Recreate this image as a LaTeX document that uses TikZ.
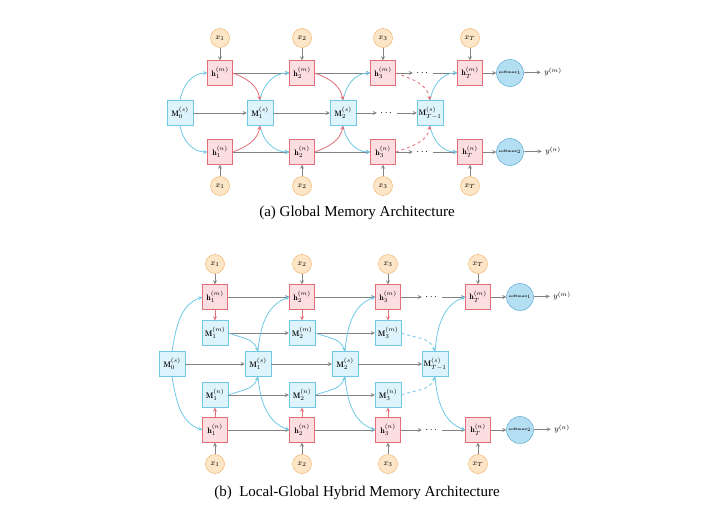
\documentclass[tikz,border=0pt]{standalone}
\usepackage{amsmath}
\usepackage{amssymb}
\usepackage{fontspec}
\usepackage{tikz}
\newfontfamily\capfont{Liberation Serif}

\definecolor{hred}{RGB}{226,110,120}
\definecolor{hfill}{RGB}{252,222,224}
\definecolor{mcyan}{RGB}{110,200,230}
\definecolor{mfill}{RGB}{222,244,252}
\definecolor{xorange}{RGB}{240,170,90}
\definecolor{xfill}{RGB}{253,230,200}
\definecolor{sblue}{RGB}{70,160,210}
\definecolor{sfill}{RGB}{180,222,242}
\definecolor{agray}{RGB}{130,130,130}

\tikzset{
  hbox/.style={draw=hred, fill=hfill, minimum width=25pt, minimum height=25pt, inner sep=1pt, font=\footnotesize},
  mbox/.style={draw=mcyan, fill=mfill, minimum width=26pt, minimum height=25pt, inner sep=1pt, font=\footnotesize},
  xin/.style={circle, draw=xorange, fill=xfill, minimum size=19pt, inner sep=0pt, font=\footnotesize},
  smax/.style={circle, draw=sblue, fill=sfill, minimum size=27pt, inner sep=0pt, font=\fontsize{3.5}{4}\selectfont\bfseries},
  garr/.style={->, >=stealth, agray, thick},
  carr/.style={->, >=stealth, mcyan, thick},
  rarr/.style={->, >=stealth, hred, thick},
  caption/.style={font=\capfont\fontsize{15}{17}\selectfont},
}

\begin{document}
\begin{tikzpicture}[x=1pt,y=-1pt]
                \useasboundingbox (0,0) rectangle (712,519);
                % (a) global memory
                \foreach \i/\x/\s in {1/220/1,2/302/2,3/383/3,T/470/T} {
                    \node [xin] (at\i) at (\x,38) {$x_{\s}$};
                    \node [hbox] (ahm\i) at (\x,73) {$\mathbf{h}_{\s}^{(m)}$};
                    \node [hbox] (ahn\i) at (\x,152) {$\mathbf{h}_{\s}^{(n)}$};
                    \node [xin] (ab\i) at (\x,186) {$x_{\s}$};
                    \draw [garr] (at\i) -- (ahm\i);
                    \draw [garr] (ab\i) -- (ahn\i);
                }
                \node [mbox] (am0) at (180,113) {$\mathbf{M}_0^{(s)}$};
                \node [mbox] (am1) at (260,113) {$\mathbf{M}_1^{(s)}$};
                \node [mbox] (am2) at (343,113) {$\mathbf{M}_2^{(s)}$};
                \node [mbox] (amT) at (430,113) {$\mathbf{M}_{T-1}^{(s)}$};
                \node (adm) at (423,73) {$\cdots$};
                \node (adn) at (423,152) {$\cdots$};
                \node (ads) at (387,113) {$\cdots$};
                \node [smax] (asm) at (510,73) {softmax$_1$};
                \node [smax] (asn) at (510,152) {softmax$_2$};
                \node (aym) at (553,72) {\footnotesize $y^{(m)}$};
                \node (ayn) at (553,151) {\footnotesize $y^{(n)}$};
                \draw [garr] (ahm1) -- (ahm2);
                \draw [garr] (ahm2) -- (ahm3);
                \draw [garr] (ahm3) -- (adm);
                \draw [garr] (adm) -- (ahmT);
                \draw [garr] (ahmT) -- (asm);
                \draw [garr] (asm) -- (aym);
                \draw [garr] (ahn1) -- (ahn2);
                \draw [garr] (ahn2) -- (ahn3);
                \draw [garr] (ahn3) -- (adn);
                \draw [garr] (adn) -- (ahnT);
                \draw [garr] (ahnT) -- (asn);
                \draw [garr] (asn) -- (ayn);
                \draw [garr] (am0) -- (am1);
                \draw [garr] (am1) -- (am2);
                \draw [garr] (am2) -- (ads);
                \draw [garr] (ads) -- (amT);
                \draw [carr] (am0.north) to [out=80,in=180] (ahm1.west);
                \draw [carr] (am0.south) to [out=-80,in=180] (ahn1.west);
                \draw [carr] (am1.north) to [out=80,in=180] (ahm2.west);
                \draw [carr] (am1.south) to [out=-80,in=180] (ahn2.west);
                \draw [carr] (am2.north) to [out=80,in=180] (ahm3.west);
                \draw [carr] (am2.south) to [out=-80,in=180] (ahn3.west);
                \draw [carr] (amT.north) to [out=80,in=180] (ahmT.west);
                \draw [carr] (amT.south) to [out=-80,in=180] (ahnT.west);
                \draw [rarr] (ahm1.east) to [out=-20,in=100] (am1.north);
                \draw [rarr] (ahn1.east) to [out=20,in=-100] (am1.south);
                \draw [rarr] (ahm2.east) to [out=-20,in=100] (am2.north);
                \draw [rarr] (ahn2.east) to [out=20,in=-100] (am2.south);
                \draw [rarr, dashed] (ahm3.east) to [out=-20,in=100] (amT.north);
                \draw [rarr, dashed] (ahn3.east) to [out=20,in=-100] (amT.south);
                \node [caption] (capa) at (357,213) {(a) Global Memory Architecture};
                % (b) local-global hybrid memory
                \foreach \i/\x/\s in {1/215/1,2/302/2,3/388/3,T/478/T} {
                    \node [xin] (bt\i) at (\x,264) {$x_{\s}$};
                    \node [hbox] (bhm\i) at (\x,297) {$\mathbf{h}_{\s}^{(m)}$};
                    \node [hbox] (bhn\i) at (\x,430) {$\mathbf{h}_{\s}^{(n)}$};
                    \node [xin] (bb\i) at (\x,464) {$x_{\s}$};
                    \draw [garr] (bt\i) -- (bhm\i);
                    \draw [garr] (bb\i) -- (bhn\i);
                }
                \foreach \i/\x in {1/215,2/302,3/388} {
                    \node [mbox] (blm\i) at (\x,333) {$\mathbf{M}_{\i}^{(m)}$};
                    \node [mbox] (bln\i) at (\x,395) {$\mathbf{M}_{\i}^{(n)}$};
                    \draw [rarr] (bhm\i) -- (blm\i);
                    \draw [rarr] (bhn\i) -- (bln\i);
                }
                \node [mbox] (bm0) at (172,364) {$\mathbf{M}_0^{(s)}$};
                \node [mbox] (bm1) at (258,364) {$\mathbf{M}_1^{(s)}$};
                \node [mbox] (bm2) at (345,364) {$\mathbf{M}_2^{(s)}$};
                \node [mbox] (bmT) at (435,364) {$\mathbf{M}_{T-1}^{(s)}$};
                \node (bdm) at (432,297) {$\cdots$};
                \node (bdn) at (432,430) {$\cdots$};
                \node [smax] (bsm) at (520,297) {softmax$_1$};
                \node [smax] (bsn) at (520,430) {softmax$_2$};
                \node (bym) at (562,296) {\footnotesize $y^{(m)}$};
                \node (byn) at (562,429) {\footnotesize $y^{(n)}$};
                \draw [garr] (bhm1) -- (bhm2);
                \draw [garr] (bhm2) -- (bhm3);
                \draw [garr] (bhm3) -- (bdm);
                \draw [garr] (bdm) -- (bhmT);
                \draw [garr] (bhmT) -- (bsm);
                \draw [garr] (bsm) -- (bym);
                \draw [garr] (bhn1) -- (bhn2);
                \draw [garr] (bhn2) -- (bhn3);
                \draw [garr] (bhn3) -- (bdn);
                \draw [garr] (bdn) -- (bhnT);
                \draw [garr] (bhnT) -- (bsn);
                \draw [garr] (bsn) -- (byn);
                \draw [garr] (blm1) -- (blm2);
                \draw [garr] (blm2) -- (blm3);
                \draw [garr] (bln1) -- (bln2);
                \draw [garr] (bln2) -- (bln3);
                \draw [garr] (bm0) -- (bm1);
                \draw [garr] (bm1) -- (bm2);
                \draw [garr] (bm2) -- (bmT);
                \draw [carr] (blm1.east) to [out=-20,in=110] (bm1.north);
                \draw [carr] (bln1.east) to [out=20,in=-110] (bm1.south);
                \draw [carr] (blm2.east) to [out=-20,in=110] (bm2.north);
                \draw [carr] (bln2.east) to [out=20,in=-110] (bm2.south);
                \draw [carr, dashed] (blm3.east) to [out=-20,in=110] (bmT.north);
                \draw [carr, dashed] (bln3.east) to [out=20,in=-110] (bmT.south);
                \draw [carr] (bm0.north) to [out=80,in=200] (bhm1.west);
                \draw [carr] (bm0.south) to [out=-80,in=160] (bhn1.west);
                \draw [carr] (bm1.north) to [out=85,in=200] (bhm2.west);
                \draw [carr] (bm1.south) to [out=-85,in=160] (bhn2.west);
                \draw [carr] (bm2.north) to [out=85,in=200] (bhm3.west);
                \draw [carr] (bm2.south) to [out=-85,in=160] (bhn3.west);
                \draw [carr] (bmT.north) to [out=85,in=200] (bhmT.west);
                \draw [carr] (bmT.south) to [out=-85,in=160] (bhnT.west);
                \node [caption] (capb) at (357,493) {(b)\ \ Local-Global Hybrid Memory Architecture};
            \end{tikzpicture}
\end{document}
